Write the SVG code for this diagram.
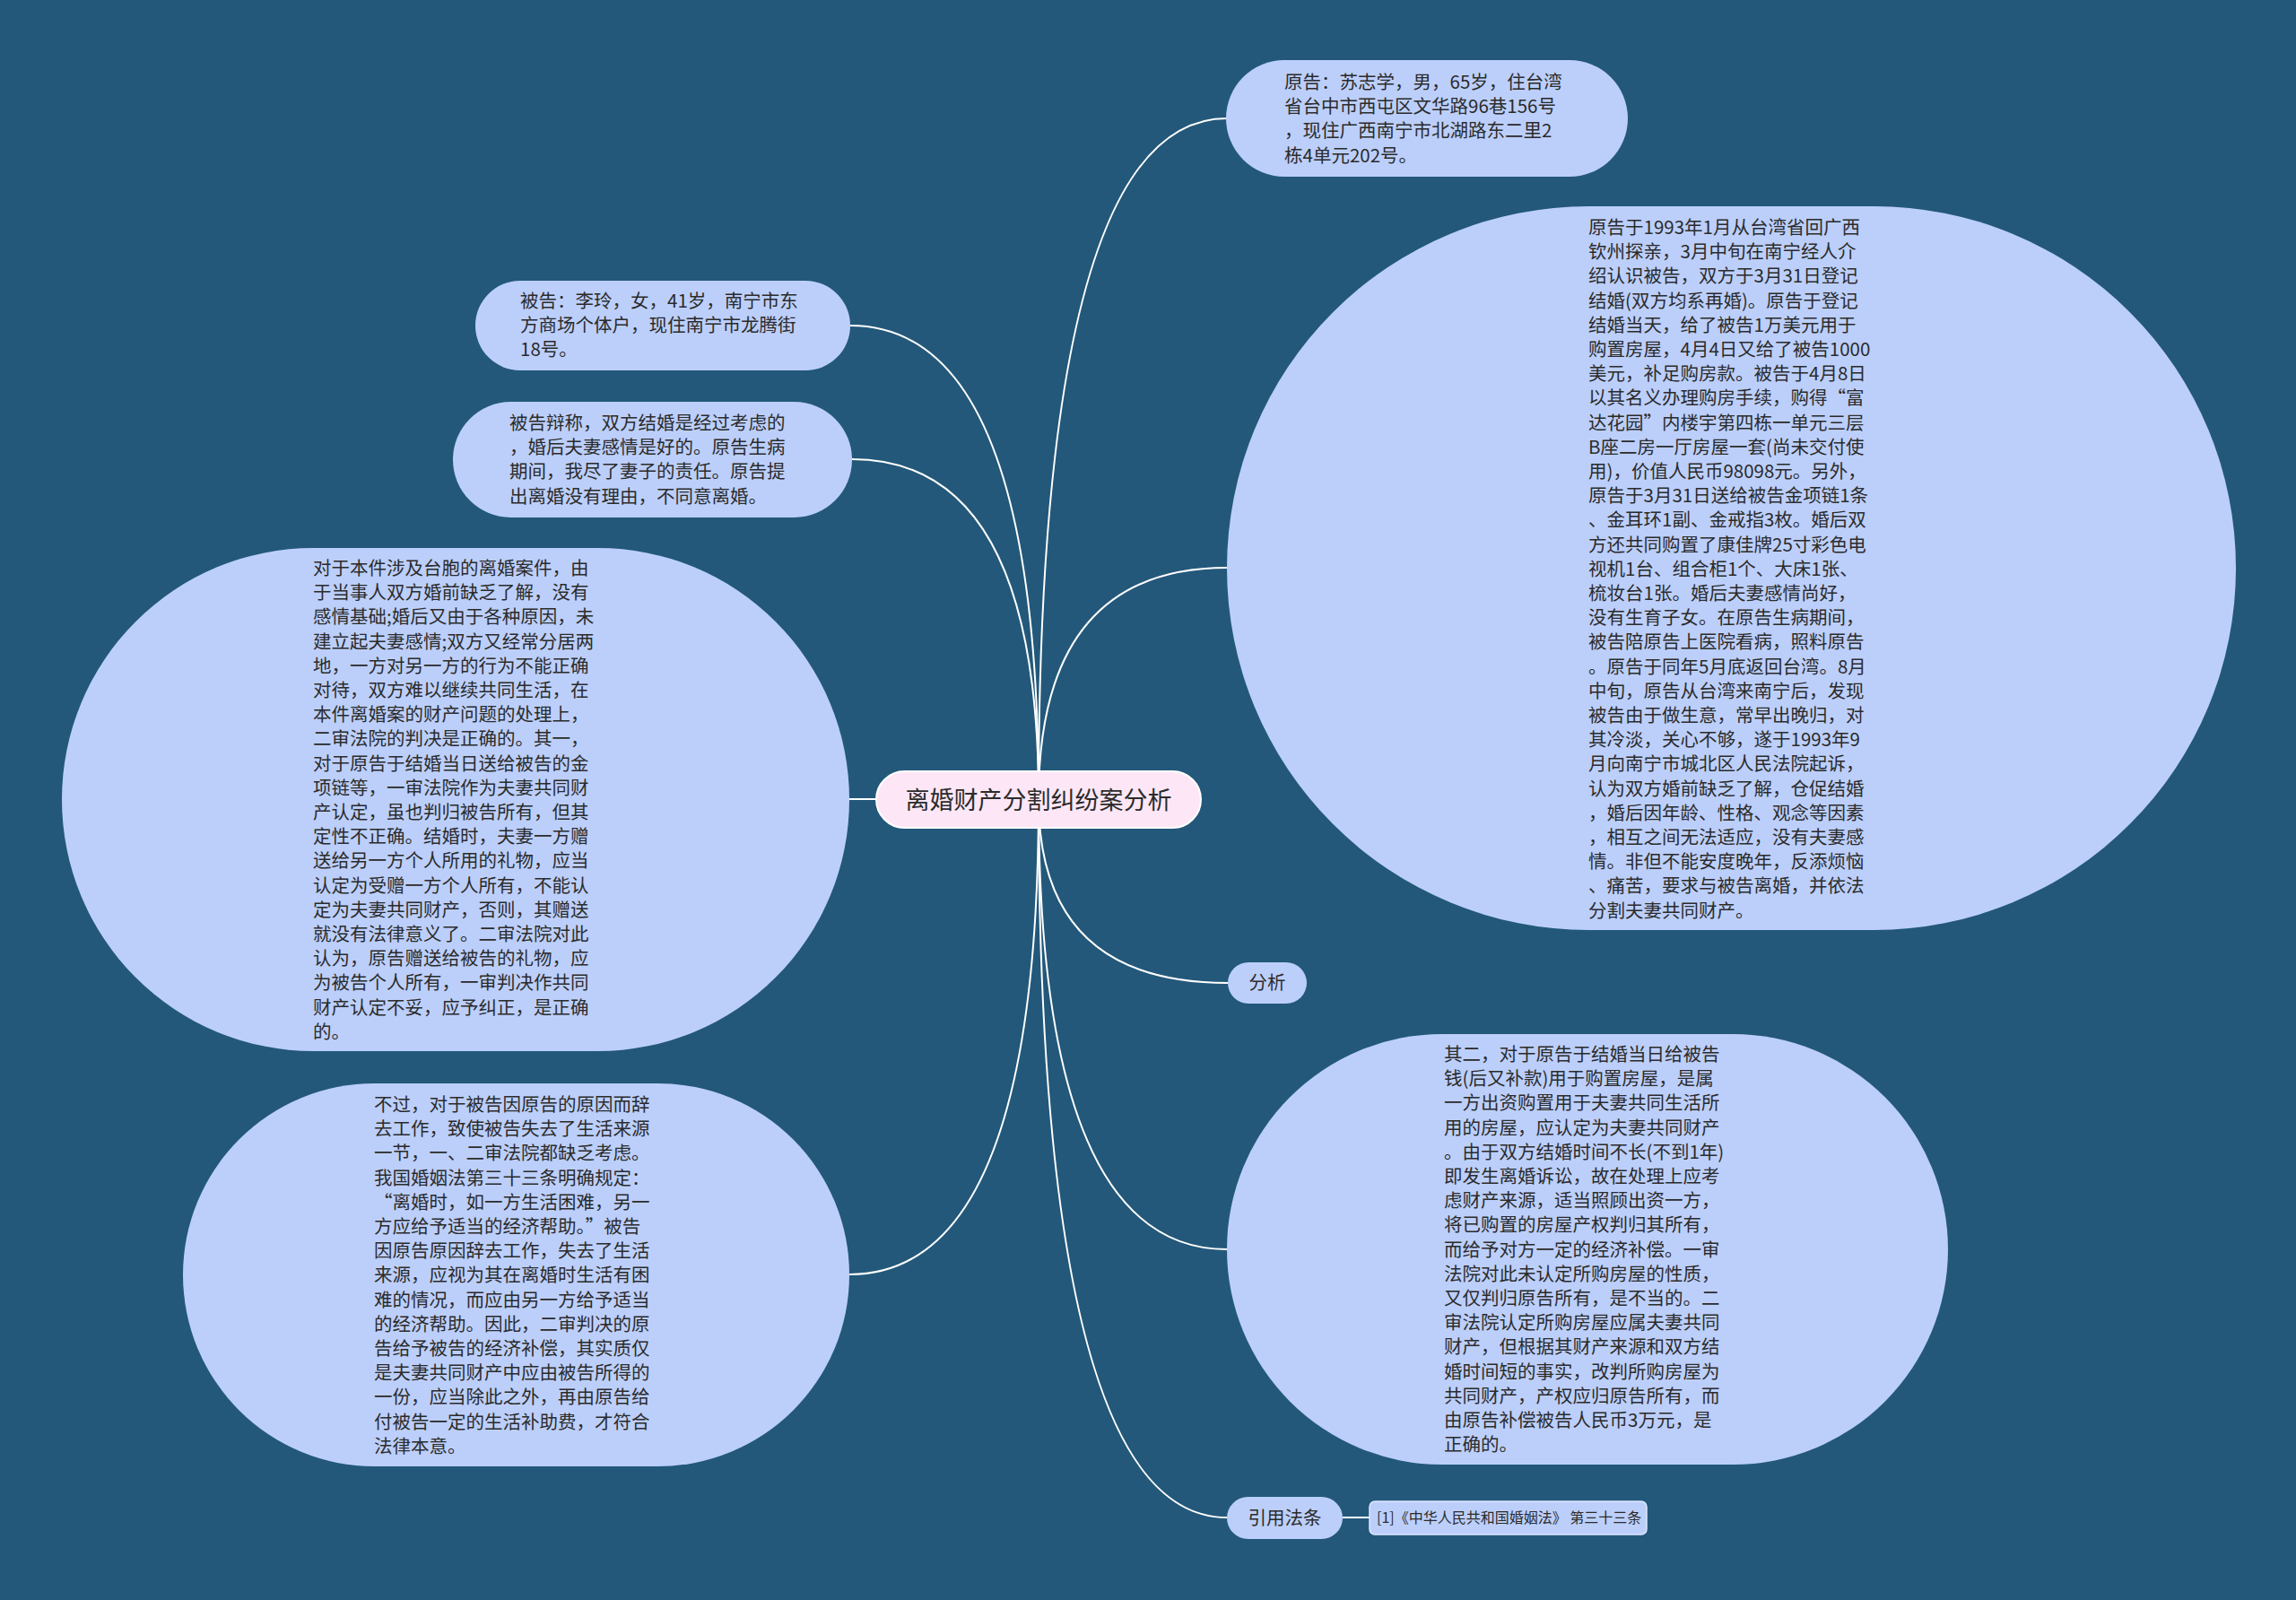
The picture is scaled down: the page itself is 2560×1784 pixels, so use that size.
<svg xmlns="http://www.w3.org/2000/svg" width="2560" height="1784" viewBox="0 0 2560 1784">
<style>
.bg{fill:#23587a}
.node{fill:#bccffb}
.root{fill:#fde7f6;stroke:#ffffff;stroke-width:2}
.cite{fill:#bccffb;stroke:#dfe8ff;stroke-width:1.5}
.t{font-family:"Noto Sans CJK SC","Noto Sans",sans-serif;font-size:20.5px;fill:#2b2b2b}
.rt{font-family:"Noto Sans CJK SC","Noto Sans",sans-serif;font-size:27px;fill:#2b2b2b}
.ct{font-family:"Noto Sans CJK SC","Noto Sans",sans-serif;font-size:16px;fill:#2b2b2b}
.conn path{fill:none;stroke:#ffffff;stroke-width:2}
</style>
<rect class="bg" x="0" y="0" width="2560" height="1784"/>
<g class="conn" id="connectors">
<path d="M1158 891 Q1158 132 1368 132"/>
<path d="M1158 891 Q1158 633 1368 633"/>
<path d="M1158 891 Q1158 1096 1369 1096"/>
<path d="M1158 891 Q1158 1393 1368 1393"/>
<path d="M1158 891 Q1158 1692 1368 1692"/>
<path d="M1158 891 Q1158 363 948 363"/>
<path d="M1158 891 Q1158 512 950 512"/>
<path d="M1158 891 L947 891"/>
<path d="M1158 891 Q1158 1421 947 1421"/>
<path d="M1497 1692 L1527 1692"/>
</g>
<g id="root">
<rect class="root" x="977" y="860" width="362" height="63" rx="31.5"/>
<text class="rt" x="1158" y="902" text-anchor="middle">离婚财产分割纠纷案分析</text>
</g>
<g id="n1">
<rect class="node" x="1367" y="67" width="448" height="130" rx="65"/>
<text class="t" x="1432" y="99"><tspan x="1432">原告：苏志学，男，65岁，住台湾</tspan><tspan x="1432" dy="27.2">省台中市西屯区文华路96巷156号</tspan><tspan x="1432" dy="27.2">，现住广西南宁市北湖路东二里2</tspan><tspan x="1432" dy="27.2">栋4单元202号。</tspan></text>
</g>
<g id="n2">
<rect class="node" x="530" y="313" width="418" height="100" rx="50"/>
<text class="t" x="580" y="343"><tspan x="580">被告：李玲，女，41岁，南宁市东</tspan><tspan x="580" dy="27.2">方商场个体户，现住南宁市龙腾街</tspan><tspan x="580" dy="27.2">18号。</tspan></text>
</g>
<g id="n3">
<rect class="node" x="505" y="448" width="445" height="129" rx="64.5"/>
<text class="t" x="568" y="479"><tspan x="568">被告辩称，双方结婚是经过考虑的</tspan><tspan x="568" dy="27.2">，婚后夫妻感情是好的。原告生病</tspan><tspan x="568" dy="27.2">期间，我尽了妻子的责任。原告提</tspan><tspan x="568" dy="27.2">出离婚没有理由，不同意离婚。</tspan></text>
</g>
<g id="n4">
<rect class="node" x="1368" y="230" width="1125" height="807" rx="403.5"/>
<text class="t" x="1771" y="261"><tspan x="1771">原告于1993年1月从台湾省回广西</tspan><tspan x="1771" dy="27.2">钦州探亲，3月中旬在南宁经人介</tspan><tspan x="1771" dy="27.2">绍认识被告，双方于3月31日登记</tspan><tspan x="1771" dy="27.2">结婚(双方均系再婚)。原告于登记</tspan><tspan x="1771" dy="27.2">结婚当天，给了被告1万美元用于</tspan><tspan x="1771" dy="27.2">购置房屋，4月4日又给了被告1000</tspan><tspan x="1771" dy="27.2">美元，补足购房款。被告于4月8日</tspan><tspan x="1771" dy="27.2">以其名义办理购房手续，购得“富</tspan><tspan x="1771" dy="27.2">达花园”内楼宇第四栋一单元三层</tspan><tspan x="1771" dy="27.2">B座二房一厅房屋一套(尚未交付使</tspan><tspan x="1771" dy="27.2">用)，价值人民币98098元。另外，</tspan><tspan x="1771" dy="27.2">原告于3月31日送给被告金项链1条</tspan><tspan x="1771" dy="27.2">、金耳环1副、金戒指3枚。婚后双</tspan><tspan x="1771" dy="27.2">方还共同购置了康佳牌25寸彩色电</tspan><tspan x="1771" dy="27.2">视机1台、组合柜1个、大床1张、</tspan><tspan x="1771" dy="27.2">梳妆台1张。婚后夫妻感情尚好，</tspan><tspan x="1771" dy="27.2">没有生育子女。在原告生病期间，</tspan><tspan x="1771" dy="27.2">被告陪原告上医院看病，照料原告</tspan><tspan x="1771" dy="27.2">。原告于同年5月底返回台湾。8月</tspan><tspan x="1771" dy="27.2">中旬，原告从台湾来南宁后，发现</tspan><tspan x="1771" dy="27.2">被告由于做生意，常早出晚归，对</tspan><tspan x="1771" dy="27.2">其冷淡，关心不够，遂于1993年9</tspan><tspan x="1771" dy="27.2">月向南宁市城北区人民法院起诉，</tspan><tspan x="1771" dy="27.2">认为双方婚前缺乏了解，仓促结婚</tspan><tspan x="1771" dy="27.2">，婚后因年龄、性格、观念等因素</tspan><tspan x="1771" dy="27.2">，相互之间无法适应，没有夫妻感</tspan><tspan x="1771" dy="27.2">情。非但不能安度晚年，反添烦恼</tspan><tspan x="1771" dy="27.2">、痛苦，要求与被告离婚，并依法</tspan><tspan x="1771" dy="27.2">分割夫妻共同财产。</tspan></text>
</g>
<g id="n5">
<rect class="node" x="69" y="611" width="878" height="561" rx="280.5"/>
<text class="t" x="349" y="641"><tspan x="349">对于本件涉及台胞的离婚案件，由</tspan><tspan x="349" dy="27.2">于当事人双方婚前缺乏了解，没有</tspan><tspan x="349" dy="27.2">感情基础;婚后又由于各种原因，未</tspan><tspan x="349" dy="27.2">建立起夫妻感情;双方又经常分居两</tspan><tspan x="349" dy="27.2">地，一方对另一方的行为不能正确</tspan><tspan x="349" dy="27.2">对待，双方难以继续共同生活，在</tspan><tspan x="349" dy="27.2">本件离婚案的财产问题的处理上，</tspan><tspan x="349" dy="27.2">二审法院的判决是正确的。其一，</tspan><tspan x="349" dy="27.2">对于原告于结婚当日送给被告的金</tspan><tspan x="349" dy="27.2">项链等，一审法院作为夫妻共同财</tspan><tspan x="349" dy="27.2">产认定，虽也判归被告所有，但其</tspan><tspan x="349" dy="27.2">定性不正确。结婚时，夫妻一方赠</tspan><tspan x="349" dy="27.2">送给另一方个人所用的礼物，应当</tspan><tspan x="349" dy="27.2">认定为受赠一方个人所有，不能认</tspan><tspan x="349" dy="27.2">定为夫妻共同财产，否则，其赠送</tspan><tspan x="349" dy="27.2">就没有法律意义了。二审法院对此</tspan><tspan x="349" dy="27.2">认为，原告赠送给被告的礼物，应</tspan><tspan x="349" dy="27.2">为被告个人所有，一审判决作共同</tspan><tspan x="349" dy="27.2">财产认定不妥，应予纠正，是正确</tspan><tspan x="349" dy="27.2">的。</tspan></text>
</g>
<g id="n6">
<rect class="node" x="204" y="1208" width="743" height="427" rx="213.5"/>
<text class="t" x="417" y="1239"><tspan x="417">不过，对于被告因原告的原因而辞</tspan><tspan x="417" dy="27.2">去工作，致使被告失去了生活来源</tspan><tspan x="417" dy="27.2">一节，一、二审法院都缺乏考虑。</tspan><tspan x="417" dy="27.2">我国婚姻法第三十三条明确规定：</tspan><tspan x="417" dy="27.2">“离婚时，如一方生活困难，另一</tspan><tspan x="417" dy="27.2">方应给予适当的经济帮助。”被告</tspan><tspan x="417" dy="27.2">因原告原因辞去工作，失去了生活</tspan><tspan x="417" dy="27.2">来源，应视为其在离婚时生活有困</tspan><tspan x="417" dy="27.2">难的情况，而应由另一方给予适当</tspan><tspan x="417" dy="27.2">的经济帮助。因此，二审判决的原</tspan><tspan x="417" dy="27.2">告给予被告的经济补偿，其实质仅</tspan><tspan x="417" dy="27.2">是夫妻共同财产中应由被告所得的</tspan><tspan x="417" dy="27.2">一份，应当除此之外，再由原告给</tspan><tspan x="417" dy="27.2">付被告一定的生活补助费，才符合</tspan><tspan x="417" dy="27.2">法律本意。</tspan></text>
</g>
<g id="n7">
<rect class="node" x="1368" y="1153" width="804" height="480" rx="240"/>
<text class="t" x="1610" y="1183"><tspan x="1610">其二，对于原告于结婚当日给被告</tspan><tspan x="1610" dy="27.2">钱(后又补款)用于购置房屋，是属</tspan><tspan x="1610" dy="27.2">一方出资购置用于夫妻共同生活所</tspan><tspan x="1610" dy="27.2">用的房屋，应认定为夫妻共同财产</tspan><tspan x="1610" dy="27.2">。由于双方结婚时间不长(不到1年)</tspan><tspan x="1610" dy="27.2">即发生离婚诉讼，故在处理上应考</tspan><tspan x="1610" dy="27.2">虑财产来源，适当照顾出资一方，</tspan><tspan x="1610" dy="27.2">将已购置的房屋产权判归其所有，</tspan><tspan x="1610" dy="27.2">而给予对方一定的经济补偿。一审</tspan><tspan x="1610" dy="27.2">法院对此未认定所购房屋的性质，</tspan><tspan x="1610" dy="27.2">又仅判归原告所有，是不当的。二</tspan><tspan x="1610" dy="27.2">审法院认定所购房屋应属夫妻共同</tspan><tspan x="1610" dy="27.2">财产，但根据其财产来源和双方结</tspan><tspan x="1610" dy="27.2">婚时间短的事实，改判所购房屋为</tspan><tspan x="1610" dy="27.2">共同财产，产权应归原告所有，而</tspan><tspan x="1610" dy="27.2">由原告补偿被告人民币3万元，是</tspan><tspan x="1610" dy="27.2">正确的。</tspan></text>
</g>
<g id="n8">
<rect class="node" x="1369" y="1073" width="88" height="46" rx="23"/>
<text class="t" x="1413" y="1103" text-anchor="middle">分析</text>
</g>
<g id="n9">
<rect class="node" x="1368" y="1669" width="129" height="47" rx="23.5"/>
<text class="t" x="1432.5" y="1700" text-anchor="middle">引用法条</text>
</g>
<g id="n10">
<rect class="cite" x="1527" y="1674" width="309" height="37" rx="6"/>
<text class="ct" x="1535" y="1698">[1]《中华人民共和国婚姻法》 第三十三条</text>
</g>
</svg>
